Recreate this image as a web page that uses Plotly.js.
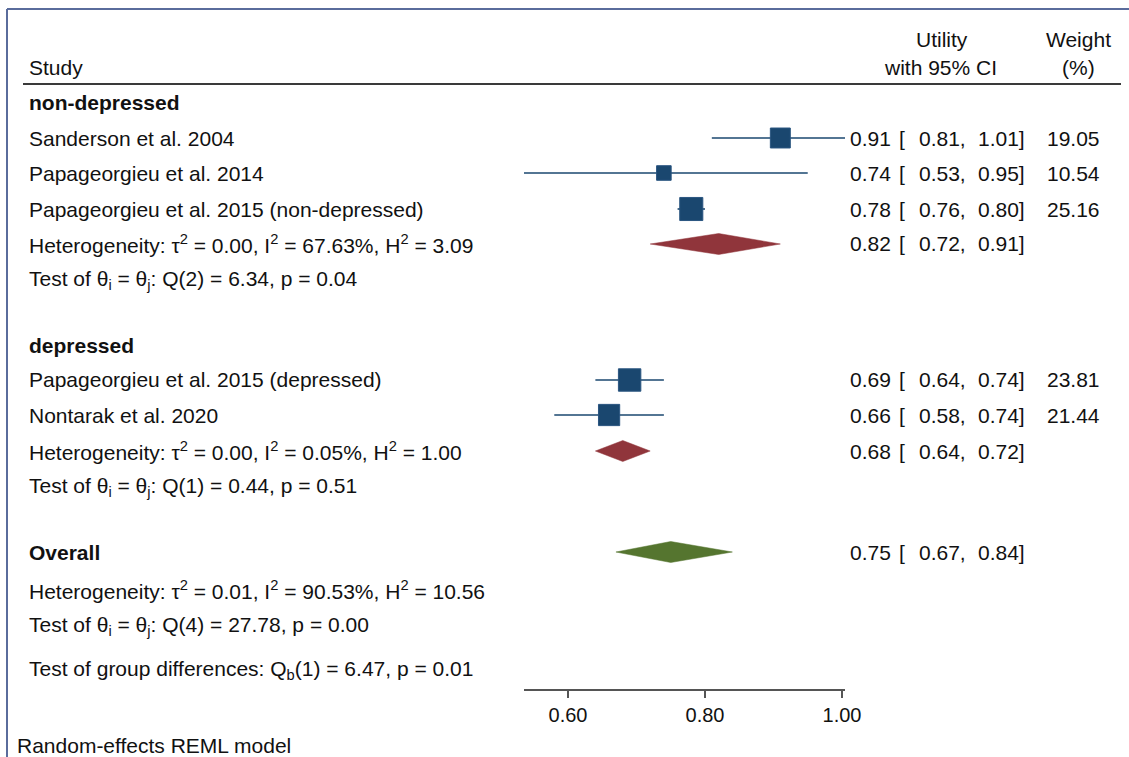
<!DOCTYPE html>
<html>
<head>
<meta charset="utf-8">
<script src="https://cdn.plot.ly/plotly-3.0.1.min.js"></script>
<style>html,body{margin:0;padding:0;background:#fff;}#chart{width:1129px;height:757px;}</style>
</head>
<body>
<div id="chart"></div>
<script>
// ---------- data ----------
const studies = ['Sanderson et al. 2004', 'Papageorgieu et al. 2014', 'Papageorgieu et al. 2015 (non-depressed)',
                 'Papageorgieu et al. 2015 (depressed)', 'Nontarak et al. 2020'];
const studyEst = [0.91, 0.74, 0.78, 0.69, 0.66];
const studyLo  = [0.81, 0.53, 0.76, 0.64, 0.58];
const studyHi  = [1.01, 0.95, 0.80, 0.74, 0.74];
const studyWeight = [19.05, 10.54, 25.16, 23.81, 21.44];

const groupNames = ['non-depressed', 'depressed'];
const groupEst = [0.82, 0.68];
const groupLo  = [0.72, 0.64];
const groupHi  = [0.91, 0.72];
const groupHet = ['Heterogeneity: \u03c4<sup>2</sup> = 0.00, I<sup>2</sup> = 67.63%, H<sup>2</sup> = 3.09',
                  'Heterogeneity: \u03c4<sup>2</sup> = 0.00, I<sup>2</sup> = 0.05%, H<sup>2</sup> = 1.00'];
const groupTest = ['Test of \u03b8<sub>i</sub> = \u03b8<sub>j</sub>: Q(2) = 6.34, p = 0.04',
                   'Test of \u03b8<sub>i</sub> = \u03b8<sub>j</sub>: Q(1) = 0.44, p = 0.51'];

const overallEst = 0.75, overallLo = 0.67, overallHi = 0.84;
const overallHet = 'Heterogeneity: \u03c4<sup>2</sup> = 0.01, I<sup>2</sup> = 90.53%, H<sup>2</sup> = 10.56';
const overallTest = 'Test of \u03b8<sub>i</sub> = \u03b8<sub>j</sub>: Q(4) = 27.78, p = 0.00';
const groupDiffTest = 'Test of group differences: Q<sub>b</sub>(1) = 6.47, p = 0.01';
const modelNote = 'Random-effects REML model';
const xTicks = [0.60, 0.80, 1.00];

// ---------- layout (row positions, in pixel units of the page) ----------
const W = 1129, H = 757;
const mL = 524, mR = 284, mT = 90, mB = 68;
const plotW = W - mL - mR, plotH = H - mT - mB;
const studyRowY = [138, 173, 209, 380, 415];
const groupHeaderY = [102, 345];
const groupDiamondY = [244, 451];
const groupTestY = [280, 487];
const overallY = 552, overallHetY = 590, overallTestY = 626, groupDiffY = 670, noteY = 745;
const diaHalf = 10.5;

const NAVY = '#1a476f', MAROON = '#90353b', GREEN = '#55752f', TXT = '#111111';
const FONT = 'Liberation Sans, Arial, sans-serif';
const FS = 21;

function px(x) { return (x - mL) / plotW; }
function py(y) { return (H - mB - y) / plotH; }

const traces = [];
// CI lines
const ciX = [], ciY = [];
studies.forEach((s, i) => { ciX.push(studyLo[i], studyHi[i], null); ciY.push(studyRowY[i], studyRowY[i], null); });
traces.push({type: 'scatter', mode: 'lines', x: ciX, y: ciY, line: {color: NAVY, width: 1.6},
             hoverinfo: 'skip', cliponaxis: false});
// squares (area proportional to weight)
traces.push({type: 'scatter', mode: 'markers', x: studyEst, y: studyRowY,
             marker: {symbol: 'square', color: NAVY, opacity: 1, size: studyWeight.map(w => 4.8 * Math.sqrt(w) - 1),
                      line: {color: '#2a5580', width: 1}},
             text: studies, hoverinfo: 'text+x', cliponaxis: false});
// diamonds
function diamond(est, lo, hi, y, color) {
  return {type: 'scatter', mode: 'lines', x: [lo, est, hi, est, lo], y: [y, y - diaHalf, y, y + diaHalf, y],
          fill: 'toself', fillcolor: color, line: {color: color, width: 0.5}, hoverinfo: 'skip', cliponaxis: false};
}
groupNames.forEach((g, i) => traces.push(diamond(groupEst[i], groupLo[i], groupHi[i], groupDiamondY[i], MAROON)));
traces.push(diamond(overallEst, overallLo, overallHi, overallY, GREEN));

// ---------- annotations ----------
const ann = [];
function txt(text, x, y, anchor, opts) {
  opts = opts || {};
  ann.push({text: text, xref: 'paper', yref: 'paper', x: px(x), y: py(y), xanchor: anchor, yanchor: 'middle',
            showarrow: false, font: {family: FONT, size: opts.size || FS, color: TXT}});
}
const LX = 27;
txt('Study', LX, 68, 'left');
txt('Utility', 942, 40, 'center');
txt('with 95% CI', 940, 68, 'center');
txt('Weight', 1078, 40, 'center');
txt('(%)', 1078, 68, 'center');

function fmt(v) { return v.toFixed(2); }
function ciText(e, l, h, y) {
  txt(fmt(e), 893, y, 'right');
  txt('[', 897, y, 'left');
  txt(fmt(l) + ',', 968, y, 'right');
  txt(fmt(h) + ']', 1027, y, 'right');
}
groupNames.forEach((g, i) => txt('<b>' + g + '</b>', LX, groupHeaderY[i], 'left'));
studies.forEach((s, i) => {
  txt(s, LX, studyRowY[i], 'left');
  ciText(studyEst[i], studyLo[i], studyHi[i], studyRowY[i]);
  txt(studyWeight[i].toFixed(2), 1102, studyRowY[i], 'right');
});
groupNames.forEach((g, i) => {
  txt(groupHet[i], LX, groupDiamondY[i], 'left');
  ciText(groupEst[i], groupLo[i], groupHi[i], groupDiamondY[i]);
  txt(groupTest[i], LX, groupTestY[i], 'left');
});
txt('<b>Overall</b>', LX, overallY, 'left');
ciText(overallEst, overallLo, overallHi, overallY);
txt(overallHet, LX, overallHetY, 'left');
txt(overallTest, LX, overallTestY, 'left');
txt(groupDiffTest, LX, groupDiffY, 'left');
txt(modelNote, 15, noteY, 'left');

// ---------- shapes ----------
const shapes = [
  {type: 'line', xref: 'paper', yref: 'paper', x0: px(23), x1: px(1121), y0: py(84), y1: py(84),
   line: {color: '#3a3a3a', width: 2}},
  {type: 'line', xref: 'paper', yref: 'paper', x0: px(7), x1: px(1129), y0: py(9), y1: py(9),
   line: {color: '#5a6c9c', width: 2}},
  {type: 'line', xref: 'paper', yref: 'paper', x0: px(7), x1: px(7), y0: py(9), y1: py(757),
   line: {color: '#5a6c9c', width: 2}}
];

const layout = {
  width: W, height: H,
  margin: {l: mL, r: mR, t: mT, b: mB, pad: 0},
  paper_bgcolor: '#ffffff', plot_bgcolor: '#ffffff',
  showlegend: false,
  font: {family: FONT, color: TXT},
  xaxis: {range: [0.5358, 1.0044], showgrid: false, zeroline: false, showline: true, linecolor: '#555555',
          linewidth: 1.5, ticks: 'outside', ticklen: 7, tickwidth: 1.5, tickcolor: '#555555',
          tickvals: xTicks, ticktext: xTicks.map(fmt), tickfont: {family: FONT, size: 20, color: TXT},
          fixedrange: true},
  yaxis: {range: [H - mB, mT], visible: false, fixedrange: true},
  annotations: ann,
  shapes: shapes
};

Plotly.newPlot('chart', traces, layout, {displayModeBar: false, staticPlot: true});
</script>
</body>
</html>
